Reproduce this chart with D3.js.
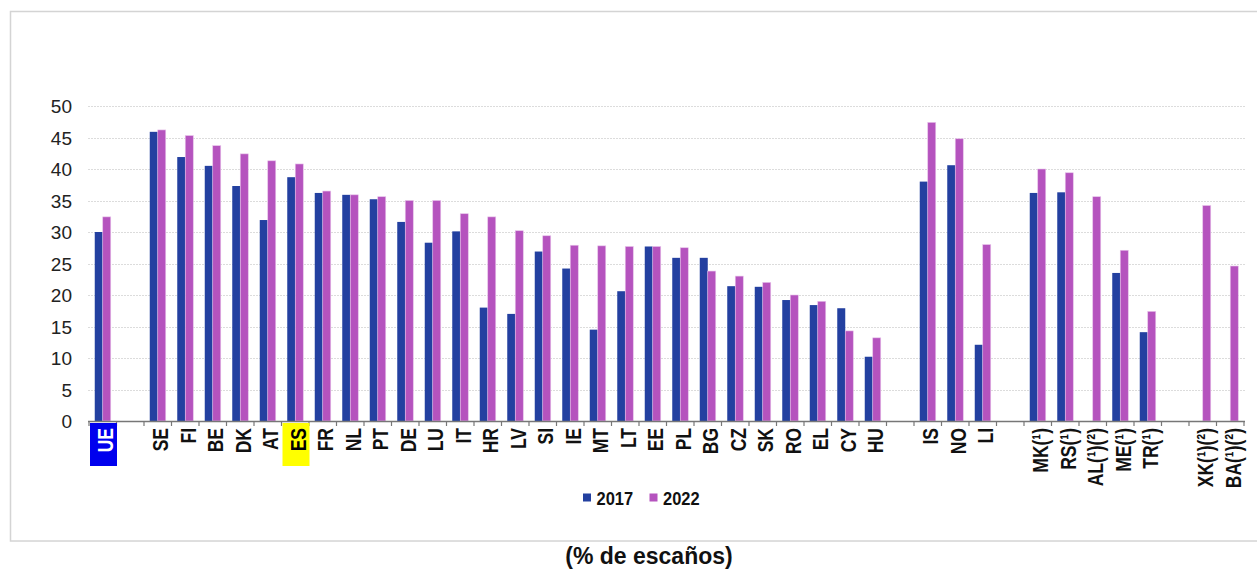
<!DOCTYPE html>
<html>
<head>
<meta charset="utf-8">
<script src="https://cdn.jsdelivr.net/npm/d3@7"></script>
<style>
  body { margin: 0; background: #fff; }
  svg { display: block; font-family: "Liberation Sans", Arial, sans-serif; }
</style>
</head>
<body>
<div id="plot"></div>
<script>
// slots ("" = empty gap slot)
const countries = ["UE", "", "SE", "FI", "BE", "DK", "AT", "ES", "FR", "NL", "PT", "DE", "LU", "IT", "HR", "LV", "SI", "IE", "MT", "LT", "EE", "PL", "BG", "CZ", "SK", "RO", "EL", "CY", "HU", "", "IS", "NO", "LI", "", "MK(¹)", "RS(¹)", "AL(¹)(²)", "ME(¹)", "TR(¹)", "", "XK(¹)(²)", "BA(¹)(²)"];
const values2017 = [30.0, null, 45.9, 41.9, 40.5, 37.3, 31.9, 38.7, 36.2, 35.9, 35.2, 31.6, 28.3, 30.1, 18.0, 17.0, 26.9, 24.2, 14.5, 20.6, 27.7, 25.9, 25.9, 21.4, 21.3, 19.2, 18.4, 17.9, 10.2, null, 38.0, 40.6, 12.1, null, 36.2, 36.3, null, 23.5, 14.1, null, null, null];
const values2022 = [32.4, null, 46.2, 45.3, 43.7, 42.4, 41.3, 40.8, 36.5, 35.9, 35.6, 35.0, 35.0, 32.9, 32.4, 30.2, 29.4, 27.9, 27.8, 27.7, 27.7, 27.5, 23.8, 23.0, 22.0, 20.0, 19.0, 14.3, 13.2, null, 47.4, 44.8, 28.0, null, 40.0, 39.4, 35.6, 27.1, 17.4, null, 34.2, 24.6];
const years = ["2017", "2022"];
const yTicks = [0, 5, 10, 15, 20, 25, 30, 35, 40, 45, 50];

const width = 1257, height = 569;
const colors = { "2017": "#2340a0", "2022": "#b553be" };

const slots = countries.map((c, i) => ({
  key: "s" + i, name: c,
  v: { "2017": values2017[i], "2022": values2022[i] }
}));

const svg = d3.select("#plot").append("svg")
  .attr("width", width).attr("height", height);

// outer frame
svg.append("rect")
  .attr("x", 10.5).attr("y", 11.5)
  .attr("width", 1260).attr("height", 529.5)
  .attr("fill", "none").attr("stroke", "#d4d4d4").attr("stroke-width", 1.5);

const x = d3.scaleBand().domain(slots.map(d => d.key)).range([89, 1244]).padding(0);
const y = d3.scaleLinear().domain([0, 50]).range([421, 106]);
const barW = 16;
const xs = d3.scaleBand().domain(years).range([0, barW]);
const off = (x.bandwidth() - barW) / 2;

// gridlines
svg.append("g").selectAll("line")
  .data(yTicks.filter(t => t > 0))
  .join("line")
  .attr("x1", 88).attr("x2", 1245)
  .attr("y1", d => Math.round(y(d)) + 0.5).attr("y2", d => Math.round(y(d)) + 0.5)
  .attr("stroke", "#dcdcdc").attr("stroke-width", 1.2)
  .attr("stroke-dasharray", "2,1");

// y labels
svg.append("g").selectAll("text")
  .data(yTicks)
  .join("text")
  .attr("x", 72).attr("y", d => y(d) + 7)
  .attr("text-anchor", "end")
  .attr("font-size", 19).attr("fill", "#222")
  .text(d => d);

// bars
const groups = svg.append("g").selectAll("g")
  .data(slots)
  .join("g")
  .attr("transform", d => `translate(${x(d.key) + off},0)`);

groups.selectAll("rect")
  .data(d => years.filter(yr => d.v[yr] != null).map(yr => ({ yr, val: d.v[yr] })))
  .join("rect")
  .attr("x", d => xs(d.yr))
  .attr("width", xs.bandwidth())
  .attr("y", d => y(d.val))
  .attr("height", d => y(0) - y(d.val))
  .attr("fill", d => colors[d.yr])
  .attr("stroke", d => d.yr === "2022" ? "#e7c2ea" : "none")
  .attr("stroke-width", 0.6);

// x axis line and ticks at slot boundaries
svg.append("line")
  .attr("x1", 88).attr("x2", 1245).attr("y1", 421.5).attr("y2", 421.5)
  .attr("stroke", "#777").attr("stroke-width", 1.5);
const bounds = slots.map(d => x(d.key)).concat([x.range()[1]]);
svg.append("g").selectAll("line")
  .data(bounds)
  .join("line")
  .attr("x1", d => d).attr("x2", d => d)
  .attr("y1", 421).attr("y2", 426)
  .attr("stroke", "#777").attr("stroke-width", 1.2);

// highlight boxes
const hl = { "UE": { bg: "#0000ee", fg: "#fff" }, "ES": { bg: "#ffff00", fg: "#000" } };
svg.append("g").selectAll("rect")
  .data(slots.filter(d => hl[d.name]))
  .join("rect")
  .attr("x", d => x(d.key) + 1)
  .attr("y", 423)
  .attr("width", x.bandwidth() - 0.5)
  .attr("height", 43)
  .attr("fill", d => hl[d.name].bg);

// x labels (rotated, tall condensed look)
const capH = 16.5;
svg.append("g").selectAll("text")
  .data(slots.filter(d => d.name))
  .join("text")
  .attr("transform", d => `translate(${x(d.key) + x.bandwidth() / 2 + 2 + capH / 2},428) rotate(-90) scale(1,1.3)`)
  .attr("text-anchor", "end")
  .attr("font-size", 17.5).attr("font-weight", "bold")
  .attr("fill", d => hl[d.name] ? hl[d.name].fg : "#111")
  .text(d => d.name);

// legend
const legend = svg.append("g").attr("transform", "translate(583,497)");
years.forEach((yr, i) => {
  const g = legend.append("g").attr("transform", `translate(${i * 66.5},0)`);
  g.append("rect").attr("x", 0).attr("y", -3.5).attr("width", 8).attr("height", 8).attr("fill", colors[yr]);
  g.append("text").attr("x", 13.5).attr("y", 8)
    .attr("font-size", 16.5).attr("font-weight", "bold").attr("fill", "#111")
    .attr("transform", "translate(0,8) scale(1,1.12) translate(0,-8)")
    .text(yr);
});

// bottom caption
svg.append("text")
  .attr("x", 649).attr("y", 564)
  .attr("text-anchor", "middle")
  .attr("font-size", 23).attr("font-weight", "bold").attr("fill", "#111")
  .text("(% de escaños)");
</script>
</body>
</html>
